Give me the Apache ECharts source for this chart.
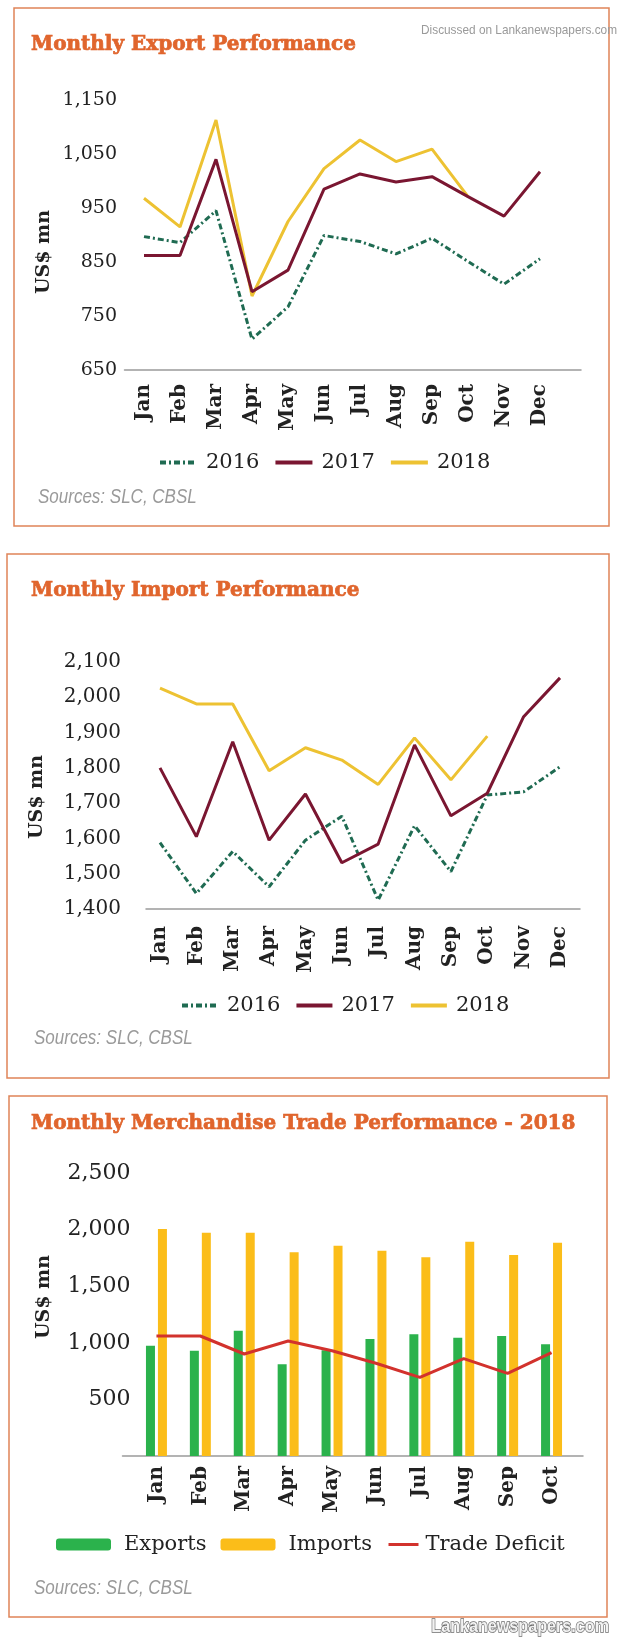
<!DOCTYPE html>
<html>
<head>
<meta charset="utf-8">
<title>Monthly Trade Performance</title>
<script src="https://cdn.jsdelivr.net/npm/echarts@6/dist/echarts.min.js"></script>
<style>
  html, body { margin: 0; padding: 0; background: #fff; }
  #chart { width: 620px; height: 1642px; }
</style>
</head>
<body>
<div id="chart"></div>
<script>
const months = ["Jan", "Feb", "Mar", "Apr", "May", "Jun", "Jul", "Aug", "Sep", "Oct", "Nov", "Dec"];
const tradeMonths = ["Jan", "Feb", "Mar", "Apr", "May", "Jun", "Jul", "Aug", "Sep", "Oct"];

// Monthly export performance (US$ mn)
const export2016 = [897, 886, 945, 707, 767, 899, 888, 865, 894, 851, 809, 856];
const export2017 = [862, 862, 1040, 795, 835, 985, 1013, 998, 1008, 971, 935, 1017];
const export2018 = [968, 915, 1113, 787, 925, 1023, 1076, 1036, 1059, 971];

// Monthly import performance (US$ mn)
const import2016 = [1588, 1444, 1563, 1463, 1595, 1663, 1425, 1636, 1506, 1723, 1732, 1803];
const import2017 = [1800, 1605, 1874, 1595, 1726, 1531, 1584, 1865, 1664, 1728, 1945, 2055];
const import2018 = [2026, 1981, 1981, 1792, 1857, 1822, 1753, 1885, 1766, 1890];

// Monthly merchandise trade 2018 (US$ mn)
const tradeExports = [975, 930, 1107, 810, 935, 1034, 1075, 1045, 1060, 987];
const tradeImports = [2005, 1973, 1973, 1799, 1858, 1814, 1755, 1893, 1776, 1884];
const tradeDeficit = [1060, 1060, 901, 1016, 930, 819, 695, 860, 730, 913];

// y tick labels
const exportTicks = [650, 750, 850, 950, 1050, 1150];
const importTicks = [1400, 1500, 1600, 1700, 1800, 1900, 2000, 2100];
const tradeTicks = [500, 1000, 1500, 2000, 2500];

const SERIF = '"DejaVu Serif", serif';
const SANS = '"Liberation Sans", Arial, sans-serif';
const ORANGE = "#e0652d";
const BOX = "#e08458";
const AXIS = "#9b9b9b";
const C2016 = "#1f6b52";
const C2017 = "#7a1631";
const C2018 = "#edc232";

// heavier slab look: bold + thin outline in the same colour
const titleStyle = {
  fontFamily: SERIF,
  fontWeight: "bold",
  fontSize: 20,
  color: ORANGE,
  textBorderColor: ORANGE,
  textBorderWidth: 0.7,
};
const fmt = (v) => Number(v).toLocaleString("en-US");

function monthAxis(gridIndex, data, margin, gap) {
  return {
    type: "category",
    gridIndex,
    data,
    boundaryGap: gap,
    axisLine: { show: false },
    axisTick: { show: false },
    axisLabel: {
      rotate: 90,
      margin,
      interval: 0,
      fontFamily: SERIF,
      fontWeight: "bold",
      fontSize: 20,
      color: "#222",
    },
  };
}

function valueAxis(gridIndex, min, max, ticks, margin, size) {
  return {
    type: "value",
    gridIndex,
    min,
    max,
    axisLine: { show: false },
    axisTick: { show: false },
    splitLine: { show: false },
    axisLabel: {
      customValues: ticks,
      margin,
      formatter: fmt,
      fontFamily: SERIF,
      fontSize: size,
      color: "#222",
    },
  };
}

// wider grey base line under each plot
function baseX(gridIndex) {
  return {
    type: "value",
    gridIndex,
    min: 0,
    max: 1,
    axisLine: { show: true, onZero: false, lineStyle: { color: AXIS, width: 1.5 } },
    axisTick: { show: false },
    axisLabel: { show: false },
    splitLine: { show: false },
  };
}
function baseY(gridIndex) {
  return { type: "value", gridIndex, min: 0, max: 1, show: false };
}

function yearLine(name, data, x, y, color, dashed) {
  return {
    name,
    type: "line",
    xAxisIndex: x,
    yAxisIndex: y,
    data,
    symbol: "none",
    itemStyle: { color },
    lineStyle: { color, width: 3, type: dashed ? [6, 3, 2, 3] : "solid" },
    z: name === "2016" ? 1 : name === "2017" ? 3 : 2,
  };
}

const legendText = { fontFamily: SERIF, fontSize: 21, color: "#222", padding: [0, 0, 0, 4] };

function boxRect(x, y, w, h) {
  return {
    type: "rect",
    silent: true,
    shape: { x, y, width: w, height: h },
    style: { fill: "none", stroke: BOX, lineWidth: 1.5 },
  };
}
function unitText(x, y) {
  return {
    type: "text",
    x,
    y,
    rotation: Math.PI / 2,
    style: {
      text: "US$ mn",
      align: "center",
      verticalAlign: "middle",
      fontFamily: SERIF,
      fontWeight: "bold",
      fontSize: 19,
      fill: "#222",
    },
  };
}
function sourceText(x, y) {
  return {
    type: "text",
    x,
    y,
    scaleX: 0.85,
    style: {
      text: "Sources: SLC, CBSL",
      align: "left",
      verticalAlign: "middle",
      fontFamily: SANS,
      fontStyle: "italic",
      fontSize: 20,
      fill: "#9a9a9a",
    },
  };
}

const chart = echarts.init(document.getElementById("chart"), null, { renderer: "canvas" });

const option = {
  backgroundColor: "#fff",
  animation: false,
  title: [
    { text: "Monthly Export Performance", left: 31, top: 35, padding: 0, textStyle: titleStyle },
    { text: "Monthly Import Performance", left: 31, top: 581, padding: 0, textStyle: titleStyle },
    { text: "Monthly Merchandise Trade Performance - 2018", left: 31, top: 1114, padding: 0, textStyle: titleStyle },
  ],
  grid: [
    { left: 144, top: 100, width: 396, height: 270 },
    { left: 124.5, top: 100, width: 456.5, height: 270 },
    { left: 160, top: 662, width: 400, height: 247 },
    { left: 146, top: 662, width: 434, height: 247 },
    { left: 134.5, top: 1173, width: 439, height: 283 },
    { left: 122.5, top: 1173, width: 460.5, height: 283 },
  ],
  xAxis: [
    monthAxis(0, months, 14, false),
    baseX(1),
    monthAxis(2, months, 17, false),
    baseX(3),
    monthAxis(4, tradeMonths, 10, true),
    baseX(5),
  ],
  yAxis: [
    valueAxis(0, 650, 1150, exportTicks, 27, 19),
    baseY(1),
    valueAxis(2, 1400, 2100, importTicks, 39, 20),
    baseY(3),
    valueAxis(4, 0, 2500, tradeTicks, 4, 22),
    baseY(5),
  ],
  legend: [
    {
      data: ["2016", "2017", "2018"],
      left: 158,
      top: 452,
      padding: 0,
      itemWidth: 37,
      itemHeight: 14,
      itemGap: 14,
      selectedMode: false,
      itemStyle: { opacity: 0 },
      lineStyle: { width: 4 },
      textStyle: legendText,
    },
    {
      data: ["2016", "2017", "2018"],
      left: 180,
      top: 995,
      padding: 0,
      itemWidth: 36,
      itemHeight: 14,
      itemGap: 14,
      selectedMode: false,
      itemStyle: { opacity: 0 },
      lineStyle: { width: 4 },
      textStyle: legendText,
    },
    {
      data: ["Exports", "Imports"],
      left: 56,
      top: 1534,
      padding: 0,
      itemWidth: 55,
      itemHeight: 12,
      itemGap: 14,
      selectedMode: false,
      textStyle: { fontFamily: SERIF, fontSize: 21, color: "#222", padding: [0, 0, 0, 8] },
    },
    {
      data: ["Trade Deficit"],
      left: 387,
      top: 1534,
      padding: 0,
      itemWidth: 30,
      itemHeight: 12,
      selectedMode: false,
      itemStyle: { opacity: 0 },
      lineStyle: { width: 3 },
      textStyle: { fontFamily: SERIF, fontSize: 21, color: "#222", padding: [0, 0, 0, 2] },
    },
  ],
  series: [
    yearLine("2016", export2016, 0, 0, C2016, true),
    yearLine("2017", export2017, 0, 0, C2017, false),
    yearLine("2018", export2018, 0, 0, C2018, false),

    yearLine("2016", import2016, 2, 2, C2016, true),
    yearLine("2017", import2017, 2, 2, C2017, false),
    yearLine("2018", import2018, 2, 2, C2018, false),

    {
      name: "Exports",
      type: "bar",
      xAxisIndex: 4,
      yAxisIndex: 4,
      data: tradeExports,
      barWidth: 9,
      barGap: "33%",
      itemStyle: { color: "#2bb24c" },
    },
    {
      name: "Imports",
      type: "bar",
      xAxisIndex: 4,
      yAxisIndex: 4,
      data: tradeImports,
      barWidth: 9,
      barGap: "33%",
      itemStyle: { color: "#fbbd19" },
    },
    {
      name: "Trade Deficit",
      type: "line",
      xAxisIndex: 4,
      yAxisIndex: 4,
      data: tradeDeficit,
      symbol: "none",
      itemStyle: { color: "#d2322d" },
      lineStyle: { color: "#d2322d", width: 3 },
      z: 3,
    },
  ],
  graphic: [
    boxRect(14, 8, 595, 518),
    boxRect(7, 554, 602, 524),
    boxRect(9, 1096, 598, 521),
    unitText(44, 252),
    unitText(37, 797),
    unitText(44, 1297),
    sourceText(38, 497),
    sourceText(34, 1038),
    sourceText(34, 1588),
    {
      type: "text",
      x: 617,
      y: 30,
      scaleX: 0.91,
      style: {
        text: "Discussed on Lankanewspapers.com",
        align: "right",
        verticalAlign: "middle",
        fontFamily: SANS,
        fontSize: 13,
        fill: "#9a9a9a",
      },
    },
    {
      type: "text",
      x: 609,
      y: 1627,
      scaleX: 0.85,
      style: {
        text: "Lankanewspapers.com",
        align: "right",
        verticalAlign: "middle",
        fontFamily: SANS,
        fontWeight: "bold",
        fontSize: 19,
        fill: "#f2f2f2",
        stroke: "#6e6e6e",
        lineWidth: 1.5,
      },
    },
  ],
};

chart.setOption(option);
</script>
</body>
</html>
